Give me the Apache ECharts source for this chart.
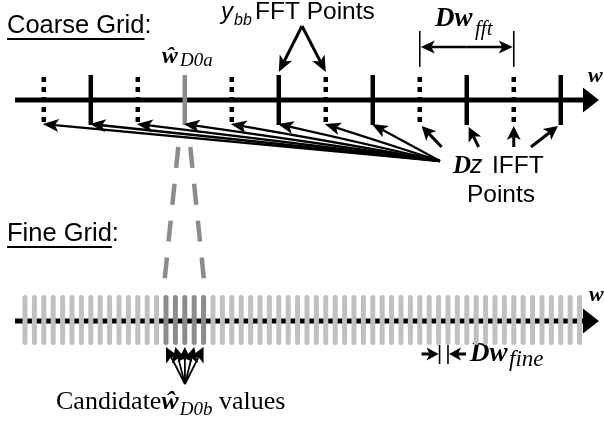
<!DOCTYPE html>
<html><head><meta charset="utf-8">
<script src="https://cdn.jsdelivr.net/npm/echarts@6/dist/echarts.min.js"></script>
<style>html,body{margin:0;padding:0;background:#fff}#c{width:604px;height:431px}</style>
</head><body><div id="c"></div>
<script>
// ===== DATA (frequency positions in fine-grid bin units) =====
const coarseTickBins  = [2, 7, 12, 17, 22, 27, 32, 37, 42, 47, 52, 57];
const coarseTickKinds = ['fft','ifft','fft','est','fft','ifft','fft','ifft','fft','ifft','fft','ifft'];
const fineBins = [0,1,2,3,4,5,6,7,8,9,10,11,12,13,14,15,16,17,18,19,20,21,22,23,24,25,26,27,28,29,
                  30,31,32,33,34,35,36,37,38,39,40,41,42,43,44,45,46,47,48,49,50,51,52,53,54,55,56,57,58,59];
const candidateBins = [15, 16, 17, 18, 19];
const ifftLongArrowTicks  = [0, 1, 2, 3, 4, 5, 6, 7];   // indices of coarse ticks
const ifftShortArrowTicks = [8, 9, 10, 11];
const fftArrowTicks   = [5, 6];
const fftSpacingTicks = [8, 10];
const fineSpacingBins = [44, 45];
const estimateTick = 3;

// ===== LAYOUT / STYLE =====
const L = {
  xMin: -2.66, xMax: 61.6,           // bin axis extent across the canvas
  coarseY: 100, fineY: 321,
  axisStart: -1.06, axisHeadBase: 59.36, axisTip: 61.06, axisHalf: 12.5, axisLw: 5,
  dottedTop: 77, dottedBot: 122, solidTop: 75, solidBot: 125, tickLw: 4.5,
  ifftHub: [44.15, 161], ifftTipY: 124,
  shortTips:  [[0.2, 126], [0.2, 127], [0, 126], [-0.3, 126]],
  shortTails: [[20, 21], [10, 20], [0, 21], [-27, 21]],
  fftTail: [29.47, 26], fftTipY: 72,
  dimFftTop: 31, dimFftBot: 67, dimFftY: 47,
  fineBarTop: 295, fineBarBot: 345, fineBarW: 5,
  linkTopY: 147, linkBotY: 281,
  candHub: [17.02, 384], candTipY: 347,
  dimFineTop: 345, dimFineBot: 364, dimFineY: 354
};
const GRAY = '#8c8c8c', LIGHT = '#c0c0c0';
const SANS = '"Liberation Sans", Arial, sans-serif';
const SERIF = '"Liberation Serif", "Times New Roman", serif';

function arrow(tail, tip, len, half, lw, color) {
  color = color || '#000';
  const dx = tip[0] - tail[0], dy = tip[1] - tail[1], d = Math.hypot(dx, dy) || 1;
  const ux = dx / d, uy = dy / d, px = -uy, py = ux;
  const bx = tip[0] - ux * len, by = tip[1] - uy * len;
  const nx = bx + ux * len * 0.25, ny = by + uy * len * 0.25;
  return [
    {type: 'line', shape: {x1: tail[0], y1: tail[1], x2: nx, y2: ny}, style: {stroke: color, lineWidth: lw}},
    {type: 'polygon', shape: {points: [tip, [bx + px * half, by + py * half], [nx, ny], [bx - px * half, by - py * half]]},
     style: {fill: color}}
  ];
}
function axisShape(api, y) {
  const a = api.coord([L.axisStart, y]), b = api.coord([L.axisHeadBase, y]), t = api.coord([L.axisTip, y]);
  return {type: 'group', children: [
    {type: 'line', shape: {x1: a[0], y1: a[1], x2: b[0] + 1, y2: b[1]}, style: {stroke: '#000', lineWidth: L.axisLw}},
    {type: 'polygon', shape: {points: [[b[0], b[1] - L.axisHalf], t, [b[0], b[1] + L.axisHalf]]}, style: {fill: '#000'}}
  ]};
}
const X = (api, bin) => api.coord([bin, 0])[0];

const series = [
  // coarse axis
  {type: 'custom', z: 2, data: [[0]], renderItem: (p, api) => axisShape(api, L.coarseY)},
  // coarse ticks
  {type: 'custom', z: 3, data: coarseTickBins.map((b, i) => [b, i]),
   renderItem: (p, api) => {
     const x = X(api, api.value(0)), kind = coarseTickKinds[api.value(1)];
     if (kind === 'fft') {
       return {type: 'line', shape: {x1: x, y1: L.dottedTop, x2: x, y2: L.dottedBot},
               style: {stroke: '#000', lineWidth: L.tickLw, lineDash: [5, 5]}};
     }
     return {type: 'line', shape: {x1: x, y1: L.solidTop, x2: x, y2: L.solidBot},
             style: {stroke: kind === 'est' ? GRAY : '#000', lineWidth: L.tickLw}};
   }},
  // IFFT long arrows
  {type: 'custom', z: 4, data: ifftLongArrowTicks.map(i => [coarseTickBins[i]]),
   renderItem: (p, api) => {
     const hub = api.coord(L.ifftHub);
     const tip = [X(api, api.value(0)) - 1, L.ifftTipY];
     return {type: 'group', children: arrow(hub, tip, 16, 6.5, 2.3)};
   }},
  // IFFT short arrows
  {type: 'custom', z: 4, data: ifftShortArrowTicks.map((i, k) => [coarseTickBins[i], k]),
   renderItem: (p, api) => {
     const k = api.value(1);
     const tip = [X(api, api.value(0)) + L.shortTips[k][0] * 9.4, L.shortTips[k][1]];
     const tail = [tip[0] + L.shortTails[k][0], tip[1] + L.shortTails[k][1]];
     return {type: 'group', children: arrow(tail, tip, 14, 7, 3)};
   }},
  // FFT arrows
  {type: 'custom', z: 4, data: fftArrowTicks.map(i => [coarseTickBins[i]]),
   renderItem: (p, api) => {
     const tail = api.coord(L.fftTail);
     const tip = [X(api, api.value(0)), L.fftTipY];
     return {type: 'group', children: arrow(tail, tip, 16, 7, 3)};
   }},
  // Dw_fft dimension
  {type: 'custom', z: 4, data: [[coarseTickBins[fftSpacingTicks[0]], coarseTickBins[fftSpacingTicks[1]]]],
   renderItem: (p, api) => {
     const x1 = X(api, api.value(0)), x2 = X(api, api.value(1)), y = L.dimFftY;
     return {type: 'group', children: [
       {type: 'line', shape: {x1: x1, y1: L.dimFftTop, x2: x1, y2: L.dimFftBot}, style: {stroke: '#000', lineWidth: 1.6}},
       {type: 'line', shape: {x1: x2, y1: L.dimFftTop, x2: x2, y2: L.dimFftBot}, style: {stroke: '#000', lineWidth: 1.6}},
       ...arrow([(x1 + x2) / 2, y], [x1 + 1, y], 14, 6.5, 2.6),
       ...arrow([(x1 + x2) / 2, y], [x2 - 1, y], 14, 6.5, 2.6)
     ]};
   }},
  // fine axis line (under bars)
  {type: 'custom', z: 2, data: [[0]],
   renderItem: (p, api) => {
     const a = api.coord([L.axisStart, L.fineY]), b = api.coord([L.axisHeadBase, L.fineY]);
     return {type: 'line', shape: {x1: a[0], y1: a[1], x2: b[0] + 1, y2: b[1]}, style: {stroke: '#000', lineWidth: L.axisLw}};
   }},
  // fine bars
  {type: 'custom', z: 3, data: fineBins.map(b => [b, candidateBins.indexOf(b) >= 0 ? 1 : 0]),
   renderItem: (p, api) => {
     const x = X(api, api.value(0)), r = L.fineBarW / 2;
     return {type: 'line', shape: {x1: x, y1: L.fineBarTop + r, x2: x, y2: L.fineBarBot - r},
             style: {stroke: api.value(1) ? GRAY : LIGHT, lineWidth: L.fineBarW, lineCap: 'round'}};
   }},
  // fine axis head
  {type: 'custom', z: 4, data: [[0]],
   renderItem: (p, api) => {
     const b = api.coord([L.axisHeadBase, L.fineY]), t = api.coord([L.axisTip, L.fineY]);
     return {type: 'polygon', shape: {points: [[b[0], b[1] - L.axisHalf], t, [b[0], b[1] + L.axisHalf]]}, style: {fill: '#000'}};
   }},
  // zoom links (gray dashed) from coarse estimate to candidates
  {type: 'custom', z: 3, data: [[coarseTickBins[estimateTick], candidateBins[0], candidateBins[candidateBins.length - 1]]],
   renderItem: (p, api) => {
     const xe = X(api, api.value(0)), xa = X(api, api.value(1)), xb = X(api, api.value(2));
     const st = {stroke: GRAY, lineWidth: 4.5, lineDash: [21, 16]};
     return {type: 'group', children: [
       {type: 'line', shape: {x1: xe - 6.5, y1: L.linkTopY, x2: xa - 1.5, y2: L.linkBotY}, style: st},
       {type: 'line', shape: {x1: xe + 5.5, y1: L.linkTopY, x2: xb + 0.5, y2: L.linkBotY}, style: st}
     ]};
   }},
  // candidate arrows
  {type: 'custom', z: 5, data: candidateBins.map(b => [b]),
   renderItem: (p, api) => {
     const hub = api.coord(L.candHub);
     const tip = [X(api, api.value(0)), L.candTipY];
     return {type: 'group', children: arrow(hub, tip, 15, 7.5, 1.8)};
   }},
  // Dw_fine dimension
  {type: 'custom', z: 4, data: [fineSpacingBins],
   renderItem: (p, api) => {
     const x1 = X(api, api.value(0)), x2 = X(api, api.value(1)), y = L.dimFineY;
     return {type: 'group', children: [
       {type: 'line', shape: {x1: x1 + 1, y1: L.dimFineTop, x2: x1 + 1, y2: L.dimFineBot}, style: {stroke: '#000', lineWidth: 1.6}},
       {type: 'line', shape: {x1: x2, y1: L.dimFineTop, x2: x2, y2: L.dimFineBot}, style: {stroke: '#000', lineWidth: 1.6}},
       ...arrow([x1 - 17, y], [x1, y], 12, 6.5, 3),
       ...arrow([x2 + 18, y], [x2 + 1, y], 12, 6.5, 3)
     ]};
   }}
];

// ===== TEXT =====
const mctx = document.createElement('canvas').getContext('2d');
function fontStr(size, family, style, weight) { return (style || 'normal') + ' ' + (weight || 'normal') + ' ' + size + 'px ' + family; }
function tw(s, f) { mctx.font = f; return mctx.measureText(s).width; }
function T(s, x, base, size, family, style, weight, align) {
  const f = fontStr(size, family, style, weight);
  return {type: 'text', x: x, y: base - size * 0.345, silent: true,
          style: {text: s, font: f, fill: '#000', textAlign: align || 'left', textVerticalAlign: 'middle',
                  align: align || 'left', verticalAlign: 'middle'}};
}
const g = [];
g.push(T('Coarse Grid:', 7, 35, 25.5, SANS));
g.push({type: 'line', silent: true, shape: {x1: 7, y1: 39, x2: 7 + tw('Coarse Grid', fontStr(25.5, SANS)), y2: 39}, style: {stroke: '#000', lineWidth: 2}});
g.push(T('Fine Grid:', 7, 243, 25.5, SANS));
g.push({type: 'line', silent: true, shape: {x1: 7, y1: 247, x2: 7 + tw('Fine Grid', fontStr(25.5, SANS)), y2: 247}, style: {stroke: '#000', lineWidth: 2}});
g.push(T('y', 221, 21, 24, SANS, 'italic'));
g.push(T('bb', 234, 26, 16, SANS, 'italic'));
g.push(T('FFT Points', 255, 21, 24.5, SANS));
g.push(T('\u0175', 162, 65, 24, SERIF, 'italic', 'bold'));
g.push(T('D0a', 180, 68, 19, SERIF, 'italic'));
g.push(T('Dw', 435, 28, 27, SERIF, 'italic', 'bold'));
g.push(T('fft', 475, 37, 21, SERIF, 'italic'));
g.push(T('w', 588, 84, 22, SERIF, 'italic', 'bold'));
g.push(T('w', 589, 303, 22, SERIF, 'italic', 'bold'));
g.push(T('D', 453, 175, 25, SERIF, 'italic', 'bold'));
g.push(T('z', 470, 175, 25, SANS, 'italic'));
g.push(T('IFFT', 492, 175, 24.5, SANS));
g.push(T('Points', 501, 204, 24.5, SANS, null, null, 'center'));
g.push(T('Dw', 470, 363, 27, SERIF, 'italic', 'bold'));
g.push(T('fine', 509, 368, 23, SERIF, 'italic'));
(function () {
  let x = 56;
  g.push(T('Candidate', x, 411, 26, SERIF)); x += tw('Candidate', fontStr(26, SERIF));
  g.push(T('\u0175', x, 411, 26, SERIF, 'italic', 'bold')); x += tw('\u0175', fontStr(26, SERIF, 'italic', 'bold')) + 1;
  g.push(T('D0b', x, 417, 19, SERIF, 'italic')); x += tw('D0b', fontStr(19, SERIF, 'italic'));
  g.push(T(' values', x, 411, 26, SERIF));
})();

const chart = echarts.init(document.getElementById('c'), null, {renderer: 'canvas'});
chart.setOption({
  animation: false,
  backgroundColor: '#fff',
  grid: {left: 0, right: 0, top: 0, bottom: 0},
  xAxis: {type: 'value', min: L.xMin, max: L.xMax, show: false},
  yAxis: {type: 'value', min: 0, max: 431, inverse: true, show: false},
  series: series,
  graphic: {elements: g}
});
</script></body></html>
